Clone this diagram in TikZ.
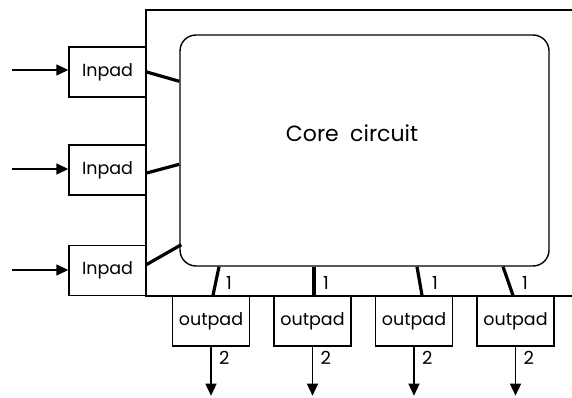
\documentclass[tikz,border=0pt]{standalone}
\usepackage{fontspec}
\setmainfont{Poppins}
\usetikzlibrary{arrows.meta, positioning, calc}

\tikzset{
    pad/.style={draw, line width=1.4pt, inner sep=0pt,
                font=\fontsize{17.5}{20}\selectfont},
    inbox/.style={pad, minimum width=77pt, minimum height=50pt},
    outbox/.style={pad, minimum width=77pt, minimum height=50pt},
    wire/.style={line width=3.2pt},
    sig/.style={line width=1.4pt, -{Triangle[length=12pt,width=11pt]}},
    pin/.style={font=\fontsize{18}{20}\selectfont, inner sep=0pt, anchor=west}
}

\begin{document}
\begin{tikzpicture}[x=1pt, y=-1pt]
    \useasboundingbox (0,0) rectangle (572,398);

    % chip boundary (open on the right)
    \draw[line width=1.4pt] (572,10) -- (146,10) -- (146,296) -- (572,296);

    % core
    \node[draw, line width=1.4pt, rounded corners=16pt,
          minimum width=369pt, minimum height=231pt] (core) at (364.5,150.5) {};
    \node[font=\fontsize{22}{26}\selectfont] (corename) at (352,133)
        {Core\hspace{0.25em} circuit};

    % input pads
    \node[inbox] (inp1) at (107.5,72)  {Inpad};
    \node[inbox] (inp2) at (107.5,170) {Inpad};
    \node[inbox] (inp3) at (107.5,270.5) {Inpad};
    \coordinate (src1) at (12,70);
    \coordinate (src2) at (12,169);
    \coordinate (src3) at (12,270);
    \foreach \i in {1,2,3}
        \draw[sig] (src\i) -- (inp\i.west |- src\i);

    \draw[wire] (inp1.east) -- ($(core.north west)+(0,47)$);
    \draw[wire] ($(inp2.east)+(0,3)$) -- ($(core.north west)+(0,130)$);
    \draw[wire] ($(inp3.east)+(0,-6)$) -- ($(core.south west)+(2,-22)$);

    % output pads
    \node[outbox] (outp1) at (211,321)   {outpad};
    \node[outbox] (outp2) at (312.5,321) {outpad};
    \node[outbox] (outp3) at (414,321)   {outpad};
    \node[outbox] (outp4) at (515.5,321) {outpad};

    \draw[wire] (core.south west -| 219,0) -- (outp1.north -| 213,0);
    \draw[wire] (core.south west -| 314,0) -- (outp2.north -| 314,0);
    \draw[wire] (core.south west -| 417,0) -- (outp3.north -| 422,0);
    \draw[wire] (core.south west -| 503,0) -- (outp4.north -| 513,0);
    \node[pin] (n1a) at (226,283) {1};
    \node[pin] (n1b) at (323,283) {1};
    \node[pin] (n1c) at (432,283) {1};
    \node[pin] (n1d) at (522,283) {1};

    \foreach \i in {1,...,4} {
        \coordinate (dst\i) at ($(outp\i.south)+(0,49)$);
        \draw[sig] (outp\i.south) -- (dst\i);
        \node[pin] (n2\i) at ($(outp\i.south)+(8,11)$) {2};
    }
\end{tikzpicture}
\end{document}
